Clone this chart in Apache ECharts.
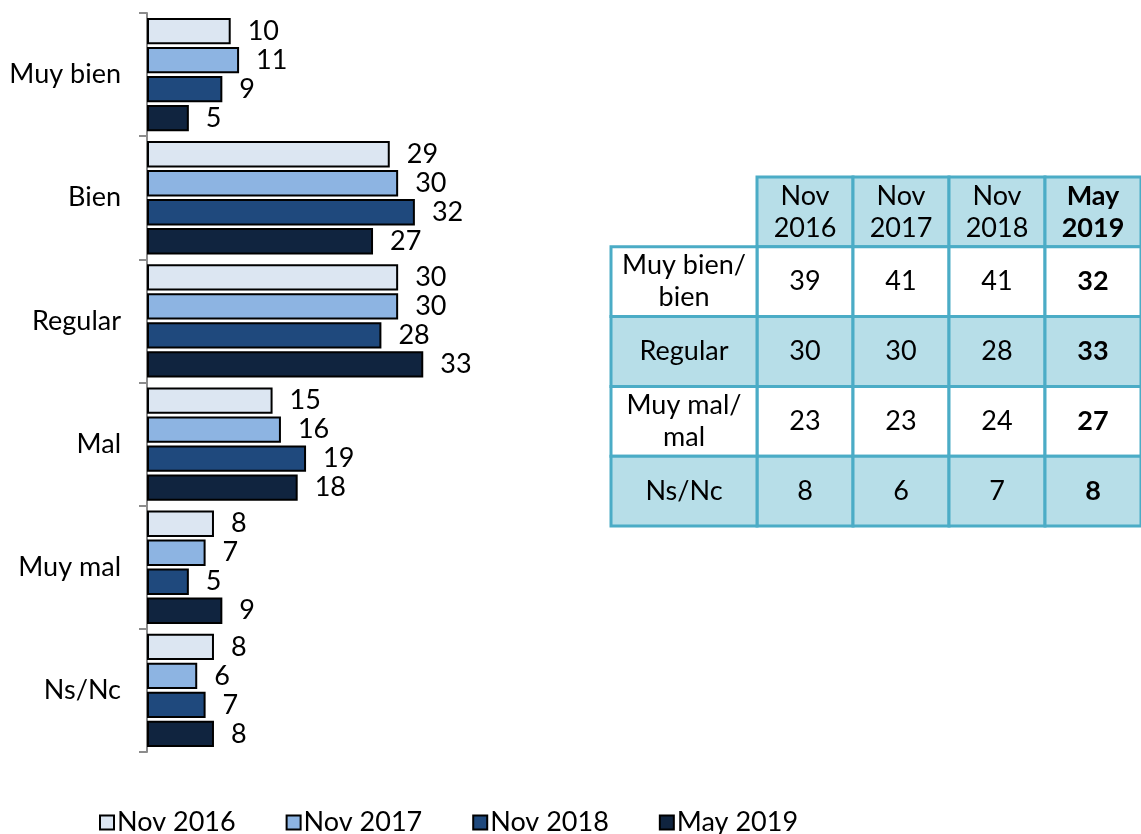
<!DOCTYPE html>
<html>
<head>
<meta charset="utf-8">
<script src="https://cdn.jsdelivr.net/npm/echarts@6/dist/echarts.min.js"></script>
<style>html,body{margin:0;padding:0;background:#fff;}#c{width:1141px;height:834px;}</style>
</head>
<body>
<div id="c"></div>
<script>
// ---- Data ----
const categories = ['Muy bien', 'Bien', 'Regular', 'Mal', 'Muy mal', 'Ns/Nc'];
const seriesNames = ['Nov 2016', 'Nov 2017', 'Nov 2018', 'May 2019'];
const nov2016 = [10, 29, 30, 15, 8, 8];
const nov2017 = [11, 30, 30, 16, 7, 6];
const nov2018 = [9, 32, 28, 19, 5, 7];
const may2019 = [5, 27, 33, 18, 9, 8];

const tableCols = ['Nov\n2016', 'Nov\n2017', 'Nov\n2018', 'May\n2019'];
const tableRows = ['Muy bien/\nbien', 'Regular', 'Muy mal/\nmal', 'Ns/Nc'];
const tNov2016 = [39, 30, 23, 8];
const tNov2017 = [41, 30, 23, 6];
const tNov2018 = [41, 28, 24, 7];
const tMay2019 = [32, 33, 27, 8];

// ---- Styles ----
const FONT = 'Lato';
const FS = 27;
const colors = ['#DCE6F2', '#8DB4E2', '#1F497D', '#10243F'];
const tableBorder = '#4BACC6';
const tableFill = '#B7DEE8';

const barValues = [nov2016, nov2017, nov2018, may2019];
const tableValues = [tNov2016, tNov2017, tNov2018, tMay2019];
const rowAxis = ['_hdr'].concat(tableRows);

const cellData = [];
tableCols.forEach((c, ci) => cellData.push([ci, 0, c]));
tableValues.forEach((col, ci) => col.forEach((v, ri) => cellData.push([ci, ri + 1, String(v)])));
const labelData = tableRows.map((r, ri) => [0, ri + 1, r]);

function cellRenderer(boldLastCol) {
  return function (params, api) {
    const ci = api.value(0), ri = api.value(1);
    const txt = params.seriesIndex === 5 ? labelData[params.dataIndex][2] : cellData[params.dataIndex][2];
    const c = api.coord([ci, ri]);
    const s = api.size([1, 1]);
    const fill = (ri % 2 === 0) ? tableFill : '#ffffff';
    const bold = boldLastCol && ci === 3;
    return {
      type: 'group',
      children: [
        { type: 'rect', shape: { x: c[0] - s[0] / 2, y: c[1] - s[1] / 2, width: s[0], height: s[1] },
          style: { fill: fill, stroke: tableBorder, lineWidth: 3 } },
        { type: 'text', style: { x: c[0], y: c[1], text: txt, align: 'center', verticalAlign: 'middle',
          fontSize: FS, fontFamily: FONT, fontWeight: bold ? 'bold' : 'normal', fill: '#000', lineHeight: 32 } }
      ]
    };
  };
}

const chart = echarts.init(document.getElementById('c'));
const barSeries = seriesNames.map((n, i) => ({
  name: n, type: 'bar', xAxisIndex: 0, yAxisIndex: 0,
  data: barValues[i],
  barGap: '10%', barCategoryGap: '8%',
  itemStyle: { color: colors[i], borderColor: '#000', borderWidth: 2 },
  label: { show: true, position: 'right', distance: 17, fontSize: FS, fontFamily: FONT, color: '#000' },
  emphasis: { disabled: true }
}));

chart.setOption({
  animation: false,
  textStyle: { fontFamily: FONT },
  grid: [
    { left: 147, top: 13, width: 293, height: 739 },
    { left: 611, top: 177, width: 146, height: 349 },
    { left: 757, top: 177, width: 388, height: 349 }
  ],
  xAxis: [
    { gridIndex: 0, type: 'value', min: 0, max: 35, show: false },
    { gridIndex: 1, type: 'category', data: ['lbl'], show: false },
    { gridIndex: 2, type: 'category', data: tableCols, show: false }
  ],
  yAxis: [
    { gridIndex: 0, type: 'category', data: categories, inverse: true,
      axisLine: { show: true, lineStyle: { color: '#8c8c8c', width: 2 } },
      axisTick: { show: true, length: 8, lineStyle: { color: '#8c8c8c', width: 2 } },
      axisLabel: { fontSize: FS, fontFamily: FONT, color: '#000', margin: 26 } },
    { gridIndex: 1, type: 'category', data: rowAxis, inverse: true, show: false },
    { gridIndex: 2, type: 'category', data: rowAxis, inverse: true, show: false }
  ],
  legend: {
    data: seriesNames, left: 94, top: 804, itemGap: 50,
    icon: 'rect', itemWidth: 14, itemHeight: 14,
    textStyle: { fontSize: FS, fontFamily: FONT, color: '#000', padding: [0, 0, 0, -2] }
  },
  series: barSeries.concat([
    { type: 'custom', xAxisIndex: 2, yAxisIndex: 2, data: cellData, renderItem: cellRenderer(true), silent: true },
    { type: 'custom', xAxisIndex: 1, yAxisIndex: 1, data: labelData, renderItem: cellRenderer(false), silent: true }
  ])
});
</script>
</body>
</html>
